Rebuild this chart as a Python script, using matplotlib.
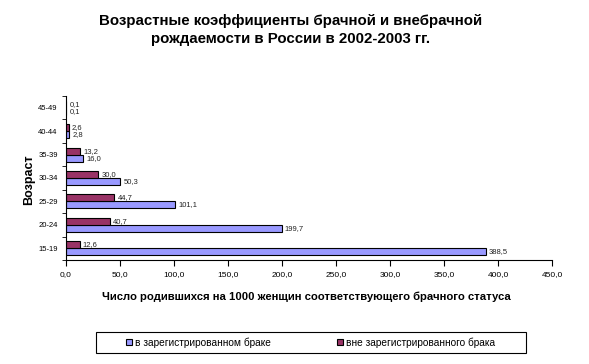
import matplotlib
matplotlib.use("Agg")
import matplotlib.pyplot as plt
from matplotlib.patches import Rectangle
import numpy as np

plt.rcParams['font.family'] = ['Liberation Sans', 'DejaVu Sans']

ages = ["15-19", "20-24", "25-29", "30-34", "35-39", "40-44", "45-49"]
married = [388.5, 199.7, 101.1, 50.3, 16.0, 2.8, 0.1]
unmarried = [12.6, 40.7, 44.7, 30.0, 13.2, 2.6, 0.1]
xticks = [0, 50, 100, 150, 200, 250, 300, 350, 400, 450]

def fmt(v):
    return f"{v:.1f}".replace(".", ",")

W, H = 589, 364
fig = plt.figure(figsize=(W/100, H/100), dpi=100)
ax = fig.add_axes([66/W, 1-260/H, (552-66)/W, (260-96)/H])

y = np.arange(len(ages))
h = 0.3
ax.barh(y - h/2, married, height=h, color="#9999FF", edgecolor="black", linewidth=0.8,
        label="в зарегистрированном браке")
ax.barh(y + h/2, unmarried, height=h, color="#993366", edgecolor="black", linewidth=0.8,
        label="вне зарегистрированного брака")
for yi, v in zip(y, married):
    ax.text(v + 3, yi - h/2, fmt(v), va="center", ha="left", fontsize=5.5, color="#222222")
for yi, v in zip(y, unmarried):
    ax.text(v + 3, yi + h/2, fmt(v), va="center", ha="left", fontsize=5.5, color="#222222")

ax.set_xlim(0, 450)
ax.set_ylim(-0.5, len(ages) - 0.5)
ax.set_xticks(xticks)
ax.set_xticklabels([fmt(t) for t in xticks], fontsize=6)
ax.set_yticks(y)
ax.set_yticklabels(ages, fontsize=5.5)
ax.set_yticks(np.arange(-0.5, len(ages), 1), minor=True)
ax.tick_params(axis='y', which='major', length=0, pad=6)
ax.tick_params(axis='y', which='minor', length=3, direction='out')
ax.tick_params(axis='x', length=4, direction='out', width=0.8, pad=4)
for s in ["top", "right"]:
    ax.spines[s].set_visible(False)
ax.spines["left"].set_linewidth(0.8)
ax.spines["bottom"].set_linewidth(0.8)

fig.text(306/W, 1-297/H, "Число родившихся на 1000 женщин соответствующего брачного статуса",
         ha="center", va="center", fontsize=8.1, fontweight="bold")
fig.text(29/W, 1-180/H, "Возраст", rotation=90, ha="center", va="center",
         fontsize=9, fontweight="bold")

fig.text(291/W, 1-21/H, "Возрастные коэффициенты брачной и внебрачной",
         ha="center", va="center", fontsize=10.8, fontweight="bold")
fig.text(291/W, 1-39/H, "рождаемости в России в 2002-2003 гг.",
         ha="center", va="center", fontsize=10.8, fontweight="bold")

fig.patches.append(Rectangle((96/W, 1-353/H), (526-96)/W, (353-332)/H,
                             transform=fig.transFigure, fill=False,
                             edgecolor="black", linewidth=0.8))
leg = fig.legend(loc="center left", bbox_to_anchor=(126/W, 1-342.5/H), ncol=2, fontsize=7.3,
                 frameon=False, handlelength=0.6, handleheight=0.6,
                 handletextpad=0.3, columnspacing=6.5, borderpad=0, borderaxespad=0)

fig.savefig("out.png", dpi=100)
